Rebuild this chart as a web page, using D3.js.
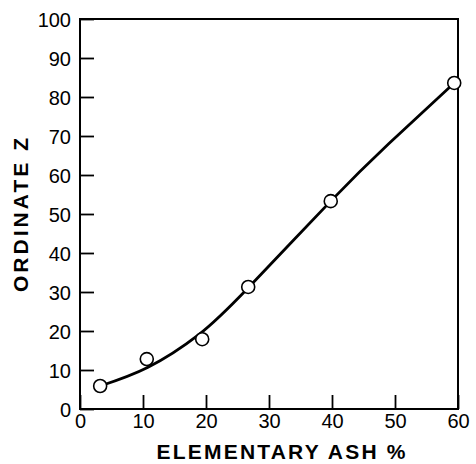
<!DOCTYPE html>
<html>
<head>
<meta charset="utf-8">
<script src="https://cdn.jsdelivr.net/npm/d3@7"></script>
<style>
  html, body { margin: 0; padding: 0; background: #fff; }
  svg { display: block; }
</style>
</head>
<body>
<svg id="chart" width="476" height="464"></svg>
<script>
// Measured data points (open circles)
const ashX = [3.2, 10.6, 19.4, 26.7, 39.8, 59.4];
const ordY = [5.9, 12.8, 17.9, 31.3, 53.3, 83.6];

// Smooth fitted curve
const curveX = [3.2, 10.8, 18.8, 26.6, 39.8, 49.0, 59.4];
const curveY = [5.9, 10.7, 19.0, 30.9, 53.3, 68.0, 83.6];

// Tick values
const xTicks = [0, 10, 20, 30, 40, 50, 60];
const yTicks = [0, 10, 20, 30, 40, 50, 60, 70, 80, 90, 100];

const xTitle = "ELEMENTARY ASH %";
const yTitle = "ORDINATE Z";

const svg = d3.select("#chart");
const mLeft = 80, mRight = 458, mTop = 19, mBottom = 409;

const x = d3.scaleLinear().domain([0, 60]).range([mLeft, mRight]);
const y = d3.scaleLinear().domain([0, 100]).range([mBottom, mTop]);

const tickLen = 14;
const tickFont = "'Liberation Sans', Arial, Helvetica, sans-serif";

// Frame
svg.append("rect")
  .attr("x", mLeft).attr("y", mTop)
  .attr("width", mRight - mLeft).attr("height", mBottom - mTop)
  .attr("fill", "none").attr("stroke", "#000").attr("stroke-width", 2);

// X axis (ticks inward, pointing up)
const xAxis = d3.axisBottom(x).tickValues(xTicks).tickSize(-tickLen).tickPadding(0).tickFormat(d3.format("d"));
const gx = svg.append("g").attr("transform", `translate(0,${mBottom})`).call(xAxis);
gx.select(".domain").remove();
gx.selectAll(".tick line").attr("stroke", "#000").attr("stroke-width", 1.8);
gx.selectAll(".tick text")
  .attr("y", 19).attr("dy", 0)
  .attr("fill", "#000")
  .style("font-family", tickFont).style("font-size", "20px");

// Y axis (ticks inward, pointing right)
const yAxis = d3.axisLeft(y).tickValues(yTicks).tickSize(-tickLen).tickPadding(0).tickFormat(d3.format("d"));
const gy = svg.append("g").attr("transform", `translate(${mLeft},0)`).call(yAxis);
gy.select(".domain").remove();
gy.selectAll(".tick line").attr("stroke", "#000").attr("stroke-width", 1.8);
gy.selectAll(".tick text")
  .attr("x", -9).attr("dy", "7.5")
  .attr("text-anchor", "end")
  .attr("fill", "#000")
  .style("font-family", tickFont).style("font-size", "20px");

// Fitted curve
const curvePts = curveX.map((v, i) => [v, curveY[i]]);
const line = d3.line().x(d => x(d[0])).y(d => y(d[1])).curve(d3.curveNatural);
svg.append("path")
  .datum(curvePts)
  .attr("d", line)
  .attr("fill", "none").attr("stroke", "#000").attr("stroke-width", 2.8)
  .attr("stroke-linecap", "round");

// Data markers
const pts = ashX.map((v, i) => [v, ordY[i]]);
svg.append("g").selectAll("circle")
  .data(pts).join("circle")
  .attr("cx", d => x(d[0])).attr("cy", d => y(d[1]))
  .attr("r", 6.5)
  .attr("fill", "#fff").attr("stroke", "#000").attr("stroke-width", 1.6);

// Axis titles
svg.append("text")
  .attr("x", 281).attr("y", 459)
  .attr("text-anchor", "middle")
  .attr("textLength", 249).attr("lengthAdjust", "spacing")
  .style("font-family", tickFont).style("font-weight", "bold").style("font-size", "21px")
  .attr("fill", "#000")
  .text(xTitle);

svg.append("text")
  .attr("transform", "translate(28,215) rotate(-90)")
  .attr("text-anchor", "middle")
  .attr("textLength", 154).attr("lengthAdjust", "spacing")
  .style("font-family", tickFont).style("font-weight", "bold").style("font-size", "21px")
  .attr("fill", "#000")
  .text(yTitle);
</script>
</body>
</html>
